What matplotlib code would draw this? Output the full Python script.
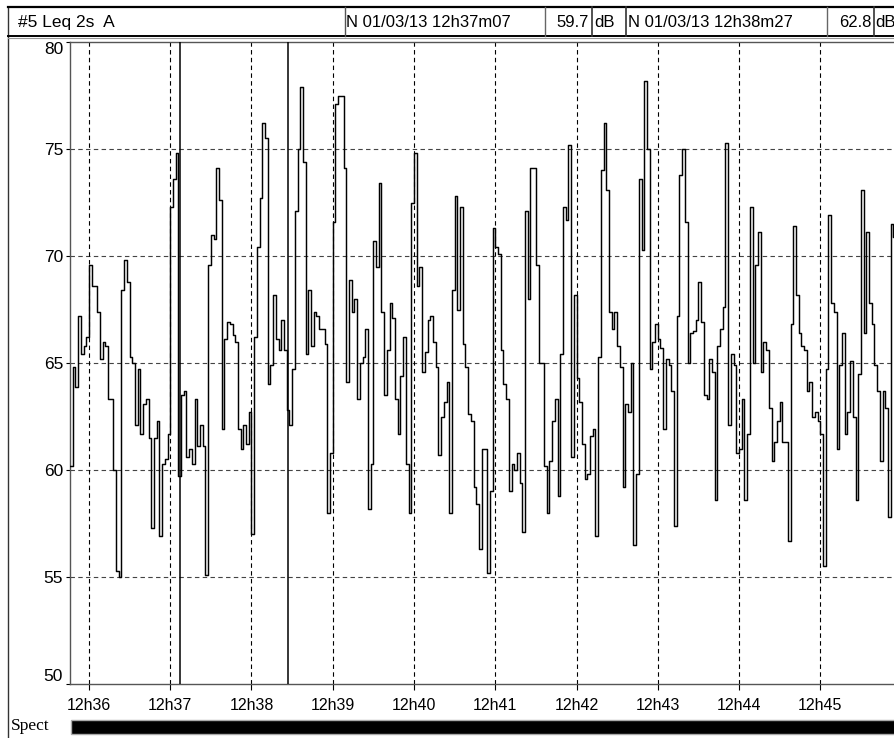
import matplotlib
matplotlib.use("Agg")
import matplotlib.pyplot as plt
from matplotlib.patches import Rectangle
from matplotlib.lines import Line2D
from matplotlib import font_manager as fm

# ---------------- data ----------------
start_time_s = 35 * 60 + 46        # 12h35m46s (seconds after 12h00)
sample_step_s = 2                  # Leq 2s
leq_values = [
    60.2, 64.8, 63.9, 67.2, 65.4, 65.8, 66.2, 69.6, 68.6, 68.6,
    67.4, 65.2, 66.0, 65.8, 63.3, 63.3, 60.0, 55.3, 55.0, 68.4,
    69.8, 68.8, 65.3, 65.0, 62.1, 64.7, 61.7, 63.1, 63.3, 61.5,
    57.3, 61.5, 62.3, 56.9, 60.3, 60.5, 61.7, 72.3, 73.6, 74.8,
    59.7, 63.5, 63.7, 60.6, 61.0, 60.3, 63.3, 61.1, 62.1, 61.1,
    55.1, 69.6, 71.0, 70.8, 74.1, 72.6, 61.9, 66.1, 66.9, 66.8,
    66.3, 66.0, 61.9, 61.0, 62.1, 61.2, 62.7, 57.0, 66.2, 70.4,
    72.7, 76.2, 75.5, 64.0, 64.9, 68.2, 66.1, 65.6, 67.0, 65.6,
    62.8, 62.1, 64.7, 72.1, 75.0, 77.9, 74.4, 65.4, 68.4, 65.8,
    67.4, 67.2, 66.6, 66.6, 65.9, 58.0, 60.8, 71.6, 77.1, 77.5,
    77.5, 74.1, 64.1, 68.9, 67.4, 68.0, 63.3, 65.0, 65.3, 66.6,
    58.2, 60.3, 70.7, 69.5, 73.4, 67.4, 63.5, 65.6, 67.8, 67.1,
    63.3, 61.7, 64.4, 66.2, 60.3, 58.0, 72.5, 74.8, 68.6, 69.5,
    64.6, 65.5, 67.0, 67.2, 66.0, 64.8, 60.7, 62.5, 63.2, 64.1,
    58.0, 68.4, 72.8, 67.5, 72.3, 65.9, 64.8, 62.6, 62.3, 59.2,
    58.4, 56.3, 61.0, 61.0, 55.2, 59.0, 71.3, 70.4, 70.1, 65.6,
    64.0, 63.3, 59.0, 60.3, 60.0, 60.8, 59.4, 57.1, 72.1, 68.0,
    74.1, 74.1, 69.6, 65.0, 65.0, 60.2, 58.0, 60.4, 62.3, 63.3,
    58.8, 65.4, 72.3, 71.7, 75.2, 60.6, 68.2, 64.3, 63.2, 61.2,
    59.6, 59.8, 61.6, 61.9, 56.9, 65.3, 74.0, 76.2, 73.1, 67.4,
    66.6, 67.4, 65.8, 64.8, 59.2, 63.1, 62.7, 65.0, 56.5, 59.8,
    73.6, 70.3, 78.2, 75.0, 64.7, 66.0, 66.8, 66.1, 65.7, 61.9,
    65.2, 64.9, 63.7, 57.4, 67.2, 73.8, 75.0, 71.6, 65.0, 66.4,
    66.5, 67.0, 68.8, 66.9, 63.5, 63.3, 65.2, 64.6, 58.6, 65.8,
    66.6, 67.6, 75.3, 62.1, 65.4, 64.9, 60.8, 61.0, 63.3, 58.6,
    61.7, 72.3, 65.0, 69.6, 71.1, 64.6, 66.0, 65.6, 62.9, 60.4,
    61.3, 62.3, 63.2, 61.3, 61.3, 56.7, 66.8, 71.4, 68.2, 66.4,
    65.8, 65.6, 63.7, 64.1, 62.5, 62.7, 62.3, 61.7, 55.5, 64.7,
    71.9, 67.8, 67.4, 61.0, 64.9, 66.4, 61.7, 62.7, 65.1, 62.5,
    58.6, 64.5, 73.1, 66.4, 71.1, 67.8, 66.8, 64.9, 63.7, 60.4,
    63.7, 62.9, 57.8, 71.5, 70.9, 77.7,
]
minute_ticks_s = [m * 60 for m in range(36, 46)]
minute_labels = ["12h36", "12h37", "12h38", "12h39", "12h40",
                 "12h41", "12h42", "12h43", "12h44", "12h45"]
y_ticks = [50, 55, 60, 65, 70, 75, 80]
cursor_times_s = [37 * 60 + 7, 38 * 60 + 27]
cursor_labels = ["N 01/03/13 12h37m07", "N 01/03/13 12h38m27"]
cursor_values = ["59.7", "62.8"]
title_text = "#5 Leq 2s  A"
unit_text = "dB"
band_label = "Spect"

# ---------------- fonts ----------------
_names = {f.name for f in fm.fontManager.ttflist}
if "Liberation Sans Narrow" in _names:
    SANS = ["Liberation Sans Narrow", "DejaVu Sans"]
    F_HEAD, F_XT, F_YT = 14, 13, 13.5
else:
    SANS = ["Liberation Sans", "DejaVu Sans"]
    F_HEAD, F_XT, F_YT = 12, 11.5, 12.5
SERIF = ["Liberation Serif", "DejaVu Serif"]

# ---------------- figure ----------------
W, H = 894, 738
fig = plt.figure(figsize=(W / 100, H / 100), dpi=100)
fig.patch.set_facecolor("white")

def px_axes(l, t, r, b):
    return [l / W, (H - b) / H, (r - l) / W, (b - t) / H]

# main plot axes (right side extends past the figure edge, as in the reference)
ax_left, ax_top, ax_right, ax_bottom = 70, 42, 900, 684
ax = fig.add_axes(px_axes(ax_left, ax_top, ax_right, ax_bottom))
px_per_min = 81.26
x0 = start_time_s
x1 = x0 + (ax_right - ax_left) / px_per_min * 60
ax.set_xlim(x0, x1)
ax.set_ylim(50, 80)

times = [start_time_s + sample_step_s * i for i in range(len(leq_values))]
ax.step(times + [times[-1] + sample_step_s], leq_values + [leq_values[-1]],
        where="post", color="black", lw=1.05, zorder=3)

for yv in y_ticks[1:-1]:
    ax.axhline(yv, color="#444444", lw=0.8, ls=(0, (4, 3)), zorder=1)
for xv in minute_ticks_s:
    ax.axvline(xv, color="black", lw=0.8, ls=(0, (4, 3)), zorder=1)
for ct in cursor_times_s:
    ax.axvline(ct, color="black", lw=1.1, zorder=4)

ax.set_yticks(y_ticks)
ylabels = ax.set_yticklabels([str(v) for v in y_ticks], family=SANS, fontsize=F_YT)
ylabels[0].set_verticalalignment("bottom")
ylabels[-1].set_verticalalignment("top")
ax.set_xticks(minute_ticks_s)
ax.set_xticklabels(minute_labels, family=SANS, fontsize=F_XT)
ax.tick_params(axis="y", direction="out", length=3, width=0.8, pad=2)
ax.tick_params(axis="x", direction="out", length=4, width=0.8, pad=6)
for s in ["left", "top", "bottom"]:
    ax.spines[s].set_color("#555555")
    ax.spines[s].set_linewidth(1.0)
ax.spines["right"].set_visible(False)

# ---------------- overlay (header, frame, band) ----------------
ov = fig.add_axes([0, 0, 1, 1], zorder=-1)
ov.set_xlim(0, W)
ov.set_ylim(H, 0)
ov.axis("off")

def line(x_a, y_a, x_b, y_b, c="black", lw=1.0):
    ov.add_line(Line2D([x_a, x_b], [y_a, y_b], color=c, lw=lw))

# outer frame line on the left
line(8, 7, 8, H, c="#333333", lw=1.0)
# header box
line(8, 7, W, 7, c="black", lw=1.6)
line(8, 36, W, 36, c="black", lw=1.4)
line(8, 38, W, 38, c="#999999", lw=0.8)

hy = 22.5
ov.text(18, hy, title_text, family=SANS, fontsize=F_HEAD + 0.5, va="center", ha="left")
# cursor 1 block
line(345, 7, 345, 36, c="#555555", lw=1.0)
ov.text(346, hy, cursor_labels[0], family=SANS, fontsize=F_HEAD, va="center", ha="left")
line(545, 7, 545, 36, c="#666666", lw=1.0)
ov.text(589, hy, cursor_values[0], family=SANS, fontsize=F_HEAD, va="center", ha="right")
line(592, 7, 592, 36, c="#333333", lw=1.2)
ov.text(594, hy, unit_text, family=SANS, fontsize=F_HEAD, va="center", ha="left")
# cursor 2 block
line(626, 7, 626, 36, c="#333333", lw=1.2)
ov.text(628, hy, cursor_labels[1], family=SANS, fontsize=F_HEAD, va="center", ha="left")
line(827, 7, 827, 36, c="#666666", lw=1.0)
ov.text(871, hy, cursor_values[1], family=SANS, fontsize=F_HEAD, va="center", ha="right")
line(874, 7, 874, 36, c="#333333", lw=1.2)
ov.text(875, hy, unit_text, family=SANS, fontsize=F_HEAD, va="center", ha="left")

# spectrum band at the bottom
ov.add_patch(Rectangle((71, 720), W - 71 + 10, 14, facecolor="black",
                       edgecolor="#aaaaaa", lw=1.0))
ov.text(11, 726, band_label, family=SERIF, fontsize=12.5, va="center", ha="left")

fig.savefig("out.png", dpi=100)
